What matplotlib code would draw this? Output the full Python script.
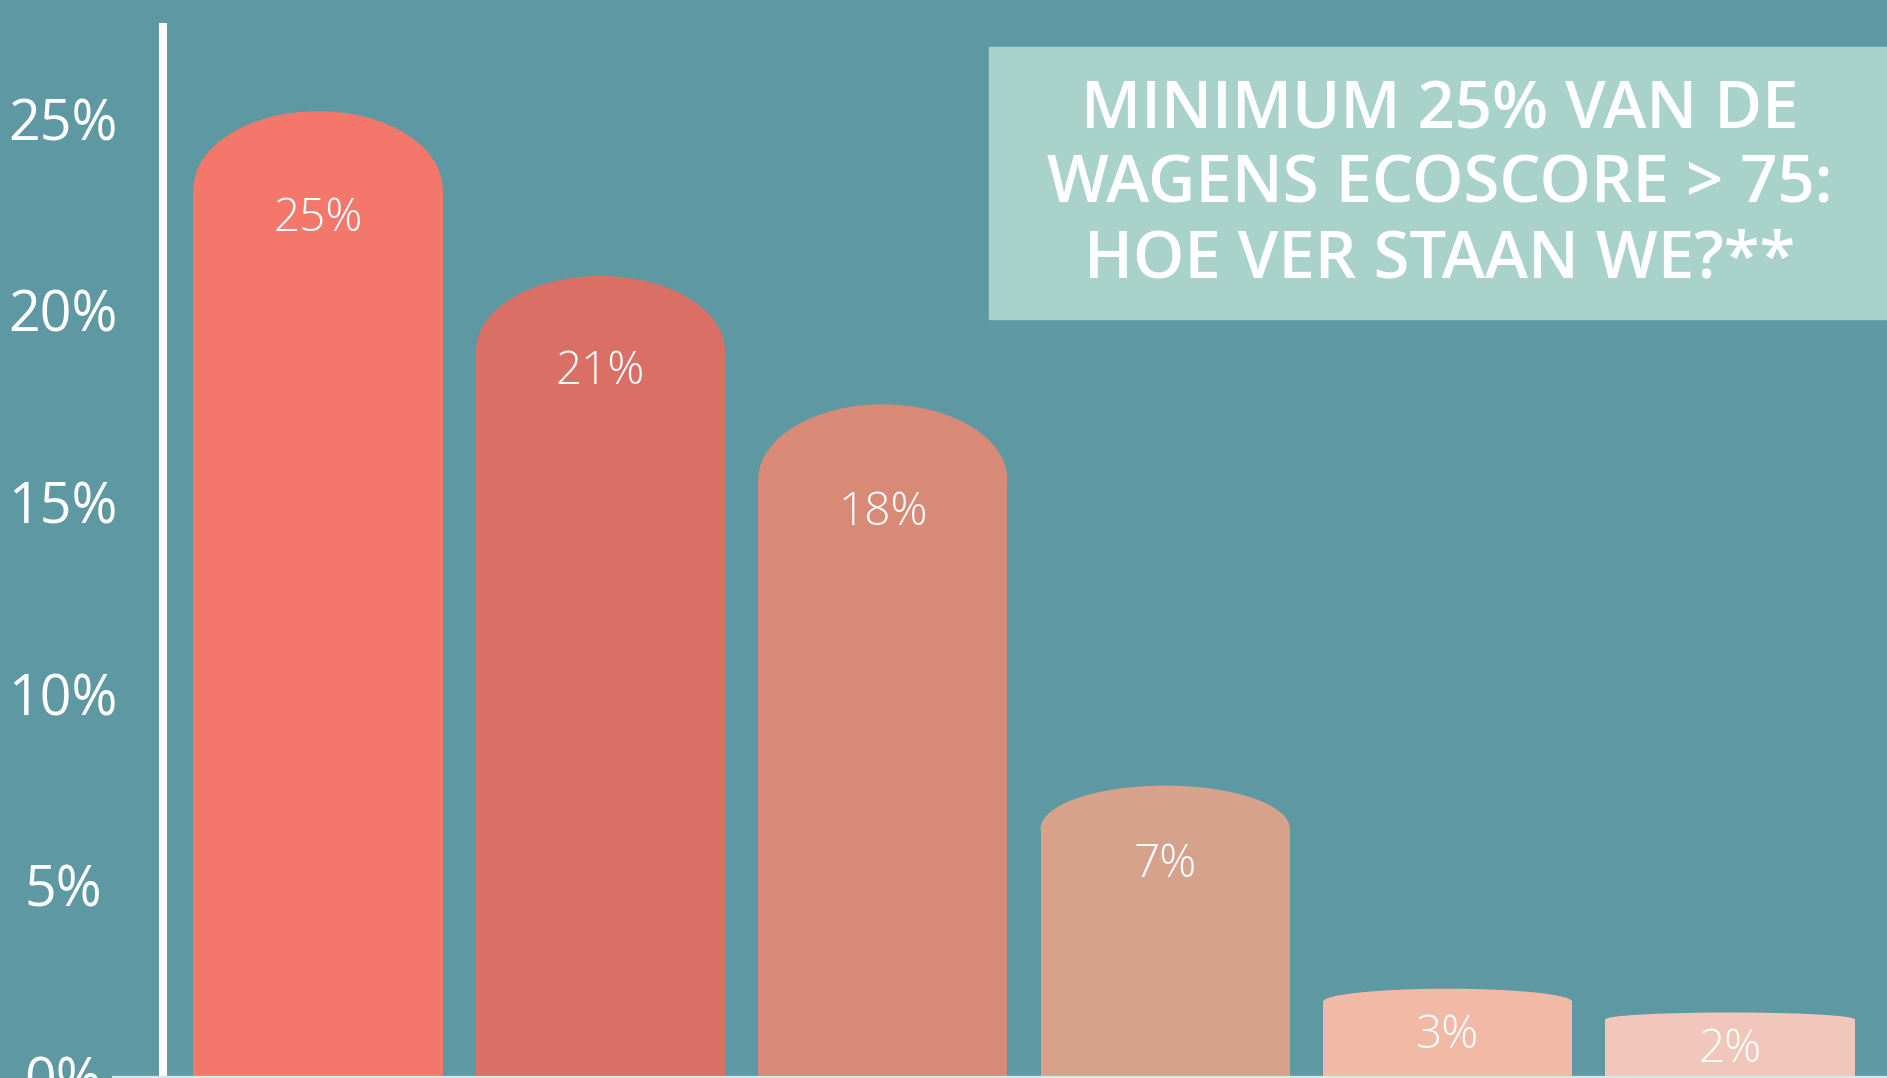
import matplotlib
import matplotlib.pyplot as plt
import numpy as np
from matplotlib.patches import Ellipse, Rectangle

matplotlib.pyplot.switch_backend('Agg')

# data
bar_values = [25.2, 20.9, 17.55, 7.6, 2.3, 1.68]
bar_labels = ['25%', '21%', '18%', '7%', '3%', '2%']
bar_colors = ['#F3786B', '#DA6F66', '#D98A77', '#D6A28B', '#F2B9A6', '#F2C7BB']
ytick_values = [0, 5, 10, 15, 20, 25]
ytick_labels = ['0%', '5%', '10%', '15%', '20%', '25%']
title = 'MINIMUM 25% VAN DE\nWAGENS ECOSCORE > 75:\nHOE VER STAAN WE?**'

# style: rounded top height and label drop (in % units)
dome_heights = [2.03, 1.96, 1.96, 1.12, 0.34, 0.18]
label_drops = [2.82, 2.52, 2.84, 2.08, 1.24, 0.98]

bg = '#5E99A3'
box_color = '#A9D3CA'

fig = plt.figure(figsize=(18.87, 10.78), dpi=100)
fig.patch.set_facecolor(bg)
ax = fig.add_axes([0, 0, 1, 1])
ax.set_facecolor(bg)

x = np.arange(len(bar_values))
width = 0.882
rect_heights = [v - d for v, d in zip(bar_values, dome_heights)]
ax.bar(x, rect_heights, width=width, color=bar_colors, zorder=2)
for xi, v, d, c in zip(x, bar_values, dome_heights, bar_colors):
    ax.add_patch(Ellipse((xi, v - d), width, 2 * d, color=c, lw=0, zorder=2))

for xi, v, drop, lab in zip(x, bar_values, label_drops, bar_labels):
    ax.text(xi, v - drop, lab, ha='center', va='center', color='white',
            fontsize=33, family='Open Sans', weight='light', zorder=3)

ax.set_xlim(-1.126, 5.556)
ax.set_ylim(-0.03, 28.1)

for s in ['top', 'right']:
    ax.spines[s].set_visible(False)
ax.spines['left'].set_position(('data', -0.549))
ax.spines['left'].set_bounds(0, 27.4)
ax.spines['left'].set_color('white')
ax.spines['left'].set_linewidth(5.8)
ax.spines['bottom'].set_position(('data', 0))
ax.spines['bottom'].set_bounds(-0.726, 5.556)
ax.spines['bottom'].set_color('#D5EAE6')
ax.spines['bottom'].set_linewidth(1.6)
ax.spines['bottom'].set_zorder(4)

ax.set_xticks([])
ax.set_yticks(ytick_values)
ax.set_yticklabels(ytick_labels)
ax.tick_params(axis='y', length=0, pad=72, colors='white', labelsize=40)
for t in ax.get_yticklabels():
    t.set_horizontalalignment('center')
    t.set_family('Open Sans')

fig.patches.append(Rectangle((989 / 1887, 0.704), 1 - 989 / 1887, 0.2523,
                             transform=fig.transFigure, color=box_color, zorder=5))
fig.text(0.763, 0.827, title, ha='center', va='center', color='white',
         fontsize=47, family='Open Sans', weight='semibold', linespacing=1.19, zorder=6)

plt.savefig('out.png', dpi=100, facecolor=bg)
